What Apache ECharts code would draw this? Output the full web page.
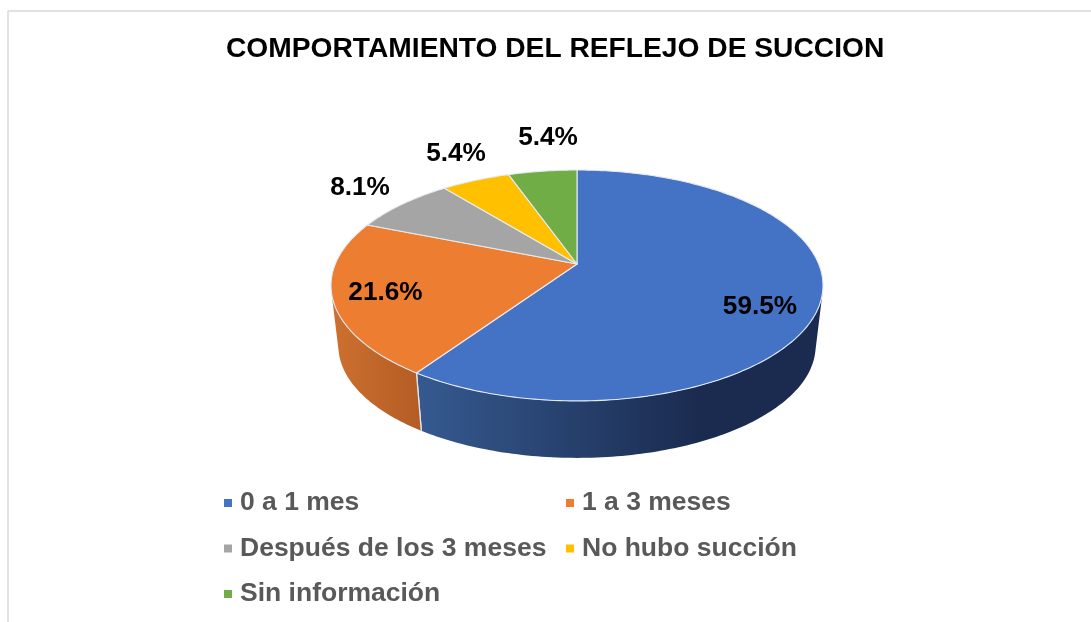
<!DOCTYPE html>
<html>
<head>
<meta charset="utf-8">
<style>html,body{margin:0;padding:0;background:#fff}#c{width:1091px;height:622px}</style>
<script src="https://cdn.jsdelivr.net/npm/echarts@6/dist/echarts.min.js"></script>
</head>
<body>
<div id="c"></div>
<script>
const titleText = 'COMPORTAMIENTO DEL REFLEJO DE SUCCION';
const categories = ['0 a 1 mes', '1 a 3 meses', 'Después de los 3 meses', 'No hubo succión', 'Sin información'];
const values = [59.5, 21.6, 8.1, 5.4, 5.4];

// styling and layout, separate from the data
const colors = ['#4472C4', '#ED7D31', '#A5A5A5', '#FFC000', '#70AD47'];
const sideStops = [['#35598f', '#1a2b4f'], ['#cc7030', '#b45c24'], ['#7c7c7c', '#7c7c7c'], ['#bf9000', '#bf9000'], ['#548235', '#548235']];
const sideGradientX = [[421, 700], [335, 421], [0, 1], [0, 1], [0, 1]];
const labelPos = [[760, 307], [385.5, 293], [360, 188], [456, 154], [548, 138]];
const FONT = '"Liberation Sans", Arial, sans-serif';
const total = values.reduce((a, b) => a + b, 0);
const starts = values.map((_, i) => values.slice(0, i).reduce((a, b) => a + b, 0) / total * 360);

// perspective mapping of the unit pie disc to the screen
const CX = 577, CY = 264, K = 0.186, A = 62.35, C = 241.7, DEPTH_S = 0.97, DEPTH_D = 69;
function topPoint(deg) {
  const t = deg * Math.PI / 180, u = Math.sin(t), v = -Math.cos(t), w = 1 - K * v;
  return [CX + C * u / w, (A * v + CY) / w];
}
function bottomPoint(deg) {
  const p = topPoint(deg);
  return [CX + (p[0] - CX) * DEPTH_S, p[1] * DEPTH_S + DEPTH_D];
}
function arc(fn, a0, a1) {
  const n = Math.max(2, Math.ceil(Math.abs(a1 - a0))), pts = [];
  for (let i = 0; i <= n; i++) pts.push(fn(a0 + (a1 - a0) * i / n));
  return pts;
}
function range(i) {
  return [starts[i], starts[i] + values[i] / total * 360];
}
// the rim is visible where its rulings face the viewer
function facesViewer(deg) {
  const a = topPoint(deg), b = bottomPoint(deg), c = topPoint(deg + 0.25);
  return (b[0] - a[0]) * (c[1] - a[1]) - (b[1] - a[1]) * (c[0] - a[0]) > 0;
}
function visibleRange(r) {
  let lo = null, hi = null;
  for (let d = r[0]; d <= r[1]; d += 0.25) {
    if (facesViewer(d)) { if (lo === null) lo = d; hi = d; }
  }
  return lo === null ? null : [lo, hi];
}

const sideSeries = {
  type: 'custom', coordinateSystem: 'none', z: 2, silent: true, animation: false,
  data: values.map(v => [v]),
  renderItem(params) {
    const i = params.dataIndex, r = range(i), vis = visibleRange(r);
    if (!vis) return { type: 'group', children: [] };
    const pts = arc(topPoint, vis[0], vis[1]).concat(arc(bottomPoint, vis[1], vis[0]));
    const gx = sideGradientX[i];
    const children = [{
      type: 'polygon', shape: { points: pts },
      style: { fill: new echarts.graphic.LinearGradient(gx[0], 0, gx[1], 0, [
        { offset: 0, color: sideStops[i][0] }, { offset: 1, color: sideStops[i][1] }], true) }
    }];
    if (i === 1) {
      const a = topPoint(r[0]), b = bottomPoint(r[0]);
      children.push({ type: 'line', z2: 5, shape: { x1: a[0], y1: a[1], x2: b[0], y2: b[1] }, style: { stroke: '#dfe3ea', lineWidth: 1.2 } });
    }
    return { type: 'group', children };
  }
};

const topSeries = categories.map((name, idx) => ({
  type: 'custom', name, coordinateSystem: 'none', z: 3, animation: false,
  itemStyle: { color: colors[idx] },
  data: [[values[idx]]],
  renderItem(params, api) {
    const r = range(idx);
    const pts = [[CX, CY]].concat(arc(topPoint, r[0], r[1]));
    return { type: 'group', children: [
      { type: 'polygon', shape: { points: pts }, style: { fill: colors[idx], stroke: '#e6ebf2', lineWidth: 1.1, lineJoin: 'round' } },
      { type: 'text', z2: 10, style: { x: labelPos[idx][0], y: labelPos[idx][1], text: api.value(0).toFixed(1) + '%',
        font: 'bold 26.2px ' + FONT, fill: '#000', align: 'center', verticalAlign: 'middle' } }
    ] };
  }
}));

const legendBase = {
  orient: 'vertical', icon: 'rect', itemWidth: 8, itemHeight: 8, itemGap: 15.5, selectedMode: false,
  textStyle: { fontFamily: FONT, fontWeight: 'bold', fontSize: 26.5, color: '#595959', lineHeight: 30, padding: [0, 0, 0, 3] }
};

const chart = echarts.init(document.getElementById('c'), null, { renderer: 'canvas' });
chart.setOption({
  animation: false,
  backgroundColor: '#fff',
  title: { text: titleText, left: 226, top: 35, padding: 0,
    textStyle: { fontFamily: FONT, fontWeight: 'bold', fontSize: 28.2, color: '#000' } },
  legend: [
    Object.assign({}, legendBase, { left: 224, top: 488, padding: 0, data: [categories[0], categories[2], categories[4]] }),
    Object.assign({}, legendBase, { left: 566, top: 488, padding: 0, data: [categories[1], categories[3]] })
  ],
  graphic: [
    { type: 'line', silent: true, shape: { x1: 8, y1: 11, x2: 1091, y2: 11 }, style: { stroke: '#d9d9d9', lineWidth: 1.5 } },
    { type: 'line', silent: true, shape: { x1: 8, y1: 11, x2: 8, y2: 622 }, style: { stroke: '#d9d9d9', lineWidth: 1.5 } }
  ],
  series: [sideSeries].concat(topSeries)
});
</script>
</body>
</html>
